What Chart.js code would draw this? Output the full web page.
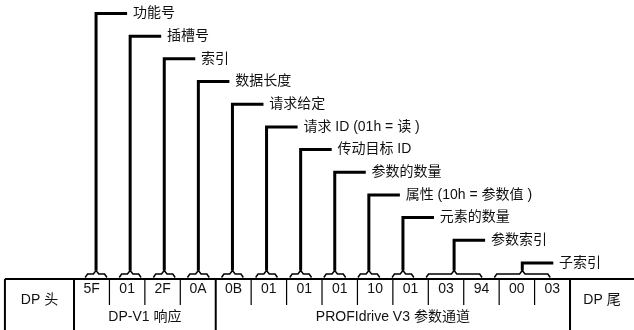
<!DOCTYPE html>
<html>
<head>
<meta charset="utf-8">
<script src="https://cdn.jsdelivr.net/npm/chart.js@4.4.1/dist/chart.umd.min.js"></script>
<style>
    html, body { margin: 0; padding: 0; background: #fff; }
    canvas { display: block; }
</style>
</head>
<body>
<canvas id="frameChart" width="634" height="330"></canvas>
<script>
//#region === Data ===

// Bytes of the telegram, left to right
const bytes = ['5F', '01', '2F', '0A', '0B', '01', '01', '01', '10', '01', '03', '94', '00', '03'];

// Field labels, first byte and number of bytes of each field (top to bottom)
const fieldLabels = ['功能号', '插槽号', '索引', '数据长度', '请求给定', '请求 ID (01h = 读 )', '传动目标 ID',
    '参数的数量', '属性 (10h = 参数值 )', '元素的数量', '参数索引', '子索引'];
const fieldStart = [0, 1, 2, 3, 4, 5, 6, 7, 8, 9, 10, 12];
const fieldLength = [1, 1, 1, 1, 1, 1, 1, 1, 1, 1, 2, 2];

// Groups under the bytes
const groupLabels = ['DP-V1 响应', 'PROFIdrive V3 参数通道'];
const groupStart = [0, 4];
const groupEnd = [4, 14];

// Frame head / tail
const frameLabels = ['DP 头', 'DP 尾'];

//#endregion

//#region === Layout (in scale units) ===

const X_MIN = -2.089, X_MAX = 15.806;      // byte axis
const XB_MIN = -2.317, XB_MAX = 16.276;    // connector axis (slightly narrower pitch)
const Y_MIN = -0.595, Y_MAX = 13.955;      // label levels, top to bottom

const HEAD_START = -1.95;
const ROW_TOP = 11.706;
const BRACE_Y = 11.486;
const BRACE_END = 11.64;
const BRACE_TIP = 11.33;
const DIVIDER_END = 12.85;
const BYTE_TEXT = 12.16;
const FRAME_TEXT = 12.63;
const GROUP_TEXT = 13.38;

const BRACE_MARGIN = 0.18;
const LEADER = 0.91;
const TEXT_GAP = 0.17;

const FONT = '14px "Liberation Sans", "Noto Sans CJK SC", sans-serif';

//#endregion

//#region === Datasets ===

function lineSet(points, width, axis = 'x') {
    return {
        data: points,
        xAxisID: axis,
        showLine: true,
        borderColor: '#000',
        borderWidth: width,
        pointRadius: 0,
        fill: false,
        tension: 0,
        borderJoinStyle: 'miter',
        borderCapStyle: 'butt'
    };
}

const datasets = [];

// Frame: top line, left edge, full-height dividers
datasets.push(lineSet([{ x: HEAD_START, y: ROW_TOP }, { x: X_MAX, y: ROW_TOP }], 2));
datasets.push(lineSet([{ x: HEAD_START, y: ROW_TOP }, { x: HEAD_START, y: Y_MAX }], 2));
const fullDividers = [...new Set([...groupStart, ...groupEnd])];
fullDividers.forEach(v => {
    datasets.push(lineSet([{ x: v, y: ROW_TOP }, { x: v, y: Y_MAX }], 2));
});

// Short dividers between bytes
for (let i = 1; i < bytes.length; i++) {
    if (fullDividers.includes(i)) continue;
    datasets.push(lineSet([{ x: i, y: ROW_TOP }, { x: i, y: DIVIDER_END }], 1.2));
}

// Braces and leaders for each field
fieldLabels.forEach((label, k) => {
    const s = fieldStart[k] + BRACE_MARGIN;
    const e = fieldStart[k] + fieldLength[k] - BRACE_MARGIN;
    const c = fieldStart[k] + fieldLength[k] / 2;
    datasets.push(lineSet([
        { x: s, y: BRACE_END }, { x: s + 0.07, y: BRACE_Y },
        { x: c - 0.08, y: BRACE_Y }, { x: c, y: BRACE_TIP }, { x: c + 0.08, y: BRACE_Y },
        { x: e - 0.07, y: BRACE_Y }, { x: e, y: BRACE_END }
    ], 1.5, 'xb'));
    datasets.push(lineSet([
        { x: c + LEADER, y: k }, { x: c, y: k }, { x: c, y: BRACE_TIP }
    ], 3, 'xb'));
});

//#endregion

//#region === Text plugin ===

const textPlugin = {
    id: 'frameText',
    afterDatasetsDraw(chart) {
        const { ctx } = chart;
        const x = chart.scales.x, xb = chart.scales.xb, y = chart.scales.y;
        ctx.save();
        ctx.font = FONT;
        ctx.fillStyle = '#111';
        ctx.textBaseline = 'middle';

        // Byte values
        ctx.textAlign = 'center';
        bytes.forEach((b, i) => {
            ctx.fillText(b, x.getPixelForValue(i + 0.5), y.getPixelForValue(BYTE_TEXT));
        });

        // Group names
        groupLabels.forEach((g, i) => {
            const mid = (groupStart[i] + groupEnd[i]) / 2;
            ctx.fillText(g, x.getPixelForValue(mid), y.getPixelForValue(GROUP_TEXT));
        });

        // Head / tail
        ctx.fillText(frameLabels[0], x.getPixelForValue((HEAD_START + 0) / 2), y.getPixelForValue(FRAME_TEXT));
        ctx.fillText(frameLabels[1], x.getPixelForValue((bytes.length + X_MAX) / 2), y.getPixelForValue(FRAME_TEXT));

        // Field labels
        ctx.textAlign = 'left';
        fieldLabels.forEach((label, k) => {
            const c = fieldStart[k] + fieldLength[k] / 2;
            ctx.fillText(label, xb.getPixelForValue(c + LEADER + TEXT_GAP), y.getPixelForValue(k));
        });
        ctx.restore();
    }
};

//#endregion

//#region === Init ===

new Chart(document.getElementById('frameChart'), {
    type: 'scatter',
    data: { datasets },
    options: {
        responsive: false,
        animation: false,
        events: [],
        layout: { padding: 0 },
        scales: {
            x: { type: 'linear', min: X_MIN, max: X_MAX, display: false },
            xb: { type: 'linear', axis: 'x', min: XB_MIN, max: XB_MAX, display: false },
            y: { type: 'linear', min: Y_MIN, max: Y_MAX, reverse: true, display: false }
        },
        plugins: {
            legend: { display: false },
            tooltip: { enabled: false }
        }
    },
    plugins: [textPlugin]
});

//#endregion
</script>
</body>
</html>
